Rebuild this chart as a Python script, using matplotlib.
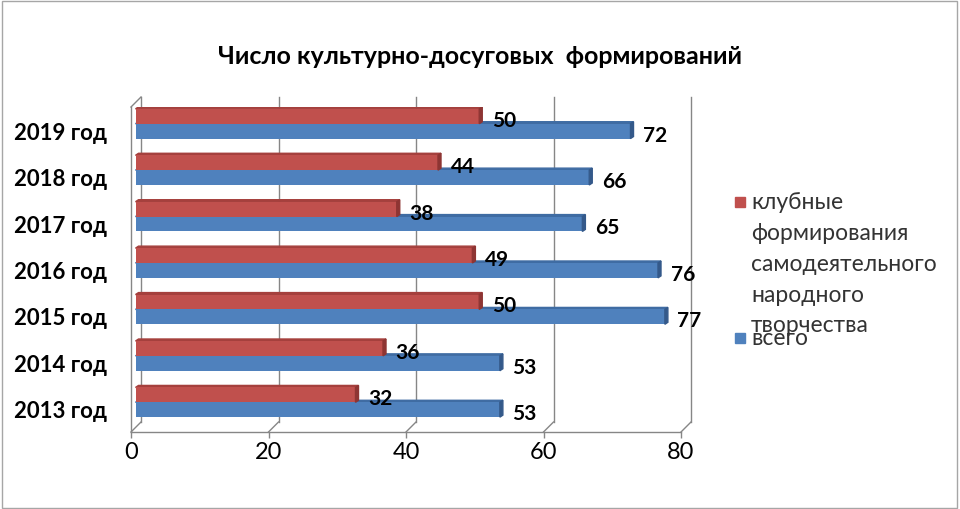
import matplotlib.pyplot as plt
import matplotlib.transforms as mtransforms
from matplotlib.patches import Polygon, Rectangle
import numpy as np

# data
years = ["2013 год", "2014 год", "2015 год", "2016 год", "2017 год", "2018 год", "2019 год"]
klub = [32, 36, 50, 49, 38, 44, 50]
vsego = [53, 53, 77, 76, 65, 66, 72]
legend_labels = ["клубные\nформирования\nсамодеятельного\nнародного\nтворчества", "всего"]
xticks = [0, 20, 40, 60, 80]
title = "Число культурно-досуговых  формирований"

RED, RED_TOP, RED_DARK = "#C0504D", "#A5403D", "#8E3533"
BLUE, BLUE_TOP, BLUE_DARK = "#4F81BD", "#3F6CA3", "#34598A"
GRID = "#868686"

plt.rcParams['font.family'] = ['Lato', 'DejaVu Sans']

fig = plt.figure(figsize=(9.6, 5.1), dpi=100)
ax = fig.add_axes([131 / 960, 1 - 433 / 510, 550 / 960, 325 / 510])
ax.set_xlim(0, 80)
ax.set_ylim(-0.5, 6.5)
for s in ax.spines.values():
    s.set_visible(False)
ax.patch.set_visible(False)


def shift(tr, dx, dy):
    # pixel offset (dpi 100)
    return tr + mtransforms.ScaledTranslation(dx / 100, dy / 100, fig.dpi_scale_trans)


DEPTH = 10  # px, back wall offset
px_x = 550 / 80
px_y = 325 / 7

# back wall grid + floor diagonals
xt = ax.get_xaxis_transform()
for v in xticks:
    ax.plot([v, v], [0, 1], color=GRID, lw=1, transform=shift(xt, DEPTH, DEPTH), clip_on=False)
    ax.plot([v, v + DEPTH / px_x], [0, DEPTH / 325], color=GRID, lw=1, transform=xt, clip_on=False)
# left wall front edge
ax.plot([0, 0], [0, 1], color=GRID, lw=1, transform=xt, clip_on=False)
ax.plot([0, DEPTH / px_x], [1, 1 + DEPTH / 325], color=GRID, lw=1, transform=xt, clip_on=False)
# front axis
ax.plot([0, 80], [0, 0], color=GRID, lw=1, transform=xt, clip_on=False)

y = np.arange(len(years))
h = 0.32
bar_tr = shift(ax.transData, 4.5, 6.5)
ddx, ddy = 3 / px_x, 2 / px_y


def draw_series(vals, yc, color, topc, dark):
    bars = ax.barh(yc, vals, height=h, color=color, transform=bar_tr, zorder=3)
    for b in bars:
        x0, y0, w, hh = b.get_x(), b.get_y(), b.get_width(), b.get_height()
        top = [(x0, y0 + hh), (x0 + w, y0 + hh), (x0 + w + ddx, y0 + hh + ddy), (x0 + ddx, y0 + hh + ddy)]
        side = [(x0 + w, y0), (x0 + w, y0 + hh), (x0 + w + ddx, y0 + hh + ddy), (x0 + w + ddx, y0 + ddy)]
        ax.add_patch(Polygon(top, closed=True, color=topc, transform=bar_tr, zorder=2))
        ax.add_patch(Polygon(side, closed=True, color=dark, transform=bar_tr, zorder=3))
    return bars


draw_series(vsego, y - h / 2, BLUE, BLUE_TOP, BLUE_DARK)
draw_series(klub, y + h / 2, RED, RED_TOP, RED_DARK)

lab_tr = shift(ax.transData, 17, 3)
for yi, v in zip(y, klub):
    ax.text(v, yi + h / 2, str(v), transform=lab_tr, fontsize=15, fontweight='bold',
            va='center', ha='left', zorder=5)
for yi, v in zip(y, vsego):
    ax.text(v, yi - h / 2, str(v), transform=lab_tr, fontsize=15, fontweight='bold',
            va='center', ha='left', zorder=5)

ax.set_yticks(y)
ax.set_yticklabels(years, fontsize=16, fontweight='bold')
ax.tick_params(axis='y', length=0, pad=17)
ax.set_xticks(xticks)
ax.set_xticklabels([str(t) for t in xticks], fontsize=17)
ax.tick_params(axis='x', length=4.5, width=1, color=GRID, pad=2)

fig.text(0.5, 1 - 57 / 510, title, ha='center', va='center', fontsize=18, fontweight='bold')

# legend, laid out like the original
fig.patches.append(Rectangle((735 / 960, 1 - 208 / 510), 10 / 960, 10 / 510, color=RED,
                             transform=fig.transFigure, figure=fig))
fig.text(751 / 960, 1 - 192 / 510, legend_labels[0], ha='left', va='top', fontsize=16.5,
         color="#333333", linespacing=1.58)
fig.patches.append(Rectangle((735 / 960, 1 - 344 / 510), 10 / 960, 10 / 510, color=BLUE,
                             transform=fig.transFigure, figure=fig))
fig.text(751 / 960, 1 - 339 / 510, legend_labels[1], ha='left', va='center', fontsize=16.5,
         color="#333333")

# outer chart border
fig.patches.append(Rectangle((0.002, 0.002), 0.995, 0.995, fill=False, edgecolor="#A6A6A6",
                             lw=1, transform=fig.transFigure, figure=fig))

fig.savefig("out.png", dpi=100)
